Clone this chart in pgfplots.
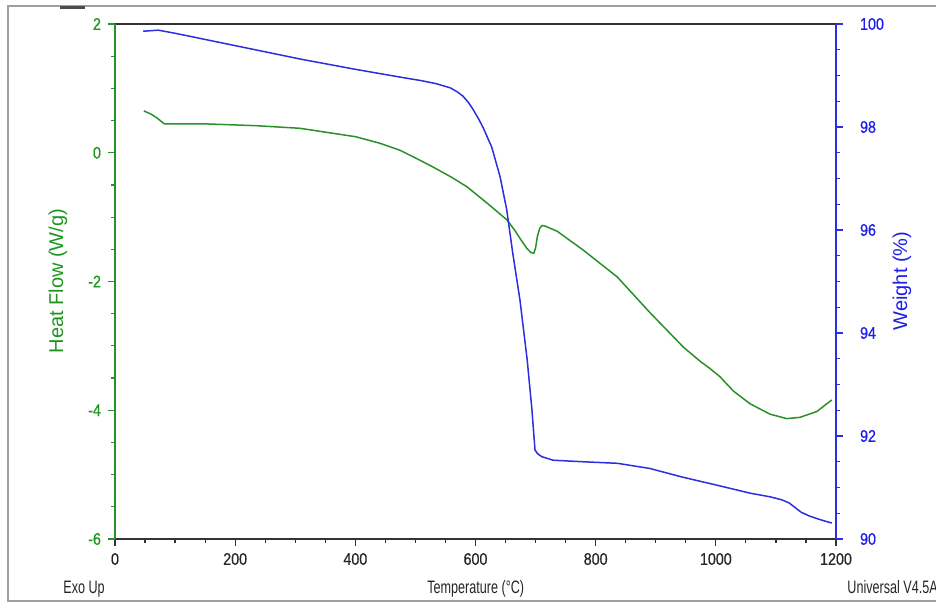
\documentclass[border=0pt]{standalone}
\usepackage{pgfplots}
\pgfplotsset{compat=1.18}
\usepackage{fontspec}
\setmainfont{Liberation Sans}
\newfontfamily\narrowfont{Liberation Sans}[FakeStretch=0.7]
\newfontfamily\tickfont{Liberation Sans}[FakeStretch=0.85,FakeBold=0.6]
\definecolor{hfgreen}{RGB}{40,145,40}
\definecolor{hfgreenlbl}{RGB}{30,150,30}
\definecolor{wtblue}{RGB}{45,45,225}
\definecolor{wtbluelbl}{RGB}{30,30,235}
\begin{document}
\begin{tikzpicture}[x=0.5pt,y=0.5pt]
% outer frame
\draw[gray!75, line width=0.7pt] (8,-6) rectangle (960,-601);
\fill[black!70] (60,-6) rectangle (85,-9);
% left axis: heat flow
\begin{axis}[
  at={(57.5pt,-269.5pt)}, anchor=south west,
  width=360.5pt, height=257.5pt, scale only axis,
  xmin=0, xmax=1200, ymin=-6, ymax=2,
  axis y line*=left,
  xtick={0,200,...,1200}, minor x tick num=3,
  ytick={-6,-4,...,2}, minor y tick num=3,
  xtick pos=left,
  tick align=outside,
  major tick length=3.5pt, minor tick length=2pt,
  axis line style={line width=0.7pt, black!80},
  y axis line style={draw=hfgreen, line width=0.7pt},
  ytick style={draw=hfgreen, line width=0.6pt},
  xtick style={draw=black!80, line width=0.6pt},
  /pgf/number format/assume math mode=true,
  tick label style={font=\tickfont\fontsize{8.4}{10}\selectfont},
  yticklabel style={text=hfgreenlbl},
  xticklabel style={text=black!85},
  /pgf/number format/1000 sep={},
  clip=false,
]
\addplot[hfgreen, line width=0.75pt] coordinates {
(48,0.65)(60,0.60)(70,0.54)(82,0.45)(146,0.45)(236,0.42)(308,0.38)(350,0.32)(400,0.25)
(440,0.15)(474,0.04)(500,-0.08)(529,-0.22)(560,-0.38)(586,-0.53)(619,-0.78)(652,-1.04)
(665,-1.20)(674,-1.33)(685,-1.48)(692,-1.55)(697,-1.56)(700,-1.48)(703,-1.30)(707,-1.17)
(711,-1.13)(716,-1.14)(736,-1.22)(779,-1.51)(836,-1.93)(890,-2.48)(946,-3.02)(974,-3.24)
(990,-3.35)(1007,-3.48)(1029,-3.70)(1057,-3.90)(1090,-4.06)(1118,-4.13)(1140,-4.11)
(1168,-4.02)(1193,-3.84)
};
\end{axis}
% right axis: weight
\begin{axis}[
  at={(57.5pt,-269.5pt)}, anchor=south west,
  width=360.5pt, height=257.5pt, scale only axis,
  xmin=0, xmax=1200, ymin=90, ymax=100,
  axis x line=none,
  axis y line*=right,
  ytick={90,92,...,100}, minor y tick num=3,
  tick align=outside,
  major tick length=3.5pt, minor tick length=2pt,
  y axis line style={draw=wtblue, line width=0.7pt},
  ytick style={draw=wtblue, line width=0.6pt},
  /pgf/number format/assume math mode=true,
  tick label style={font=\tickfont\fontsize{8.4}{10}\selectfont},
  yticklabel style={text=wtbluelbl, xshift=5pt},
  clip=false,
]
\addplot[wtblue, line width=0.75pt] coordinates {
(47,99.86)(72,99.88)(100,99.82)(200,99.58)(308,99.32)(400,99.12)(474,98.97)
(510,98.90)(535,98.84)(558,98.76)(570,98.68)(579,98.60)(588,98.48)(596,98.34)(605,98.16)(613,97.98)(627,97.61)(641,97.03)
(652,96.39)(662,95.55)(674,94.64)(686,93.48)(694,92.50)(699,91.73)(703,91.66)(710,91.60)(729,91.53)
(779,91.50)(836,91.47)(890,91.37)(945,91.20)(1000,91.05)(1057,90.89)(1090,90.82)
(1110,90.76)(1122,90.70)(1132,90.61)(1142,90.52)(1157,90.44)(1178,90.36)(1193,90.31)
};
\end{axis}
% axis titles and footer texts
\node[rotate=90, text=hfgreenlbl, font=\fontsize{10}{12}\selectfont] at (58,-281) {Heat Flow (W/g)};
\node[rotate=90, text=wtbluelbl, font=\fontsize{10}{12}\selectfont] at (902,-281) {Weight (\%)};
\node[anchor=base west, inner sep=0pt, font=\narrowfont\fontsize{9}{11}\selectfont, text=black!85] at (63,-593) {Exo Up};
\node[anchor=base west, inner sep=0pt, font=\narrowfont\fontsize{9}{11}\selectfont, text=black!85] at (427,-593) {Temperature (°C)};
\node[anchor=base west, inner sep=0pt, font=\narrowfont\fontsize{9}{11}\selectfont, text=black!85] at (847,-593) {Universal V4.5A};
\pgfresetboundingbox
\path[use as bounding box] (0,0) rectangle (936,-604);
\end{tikzpicture}
\end{document}
